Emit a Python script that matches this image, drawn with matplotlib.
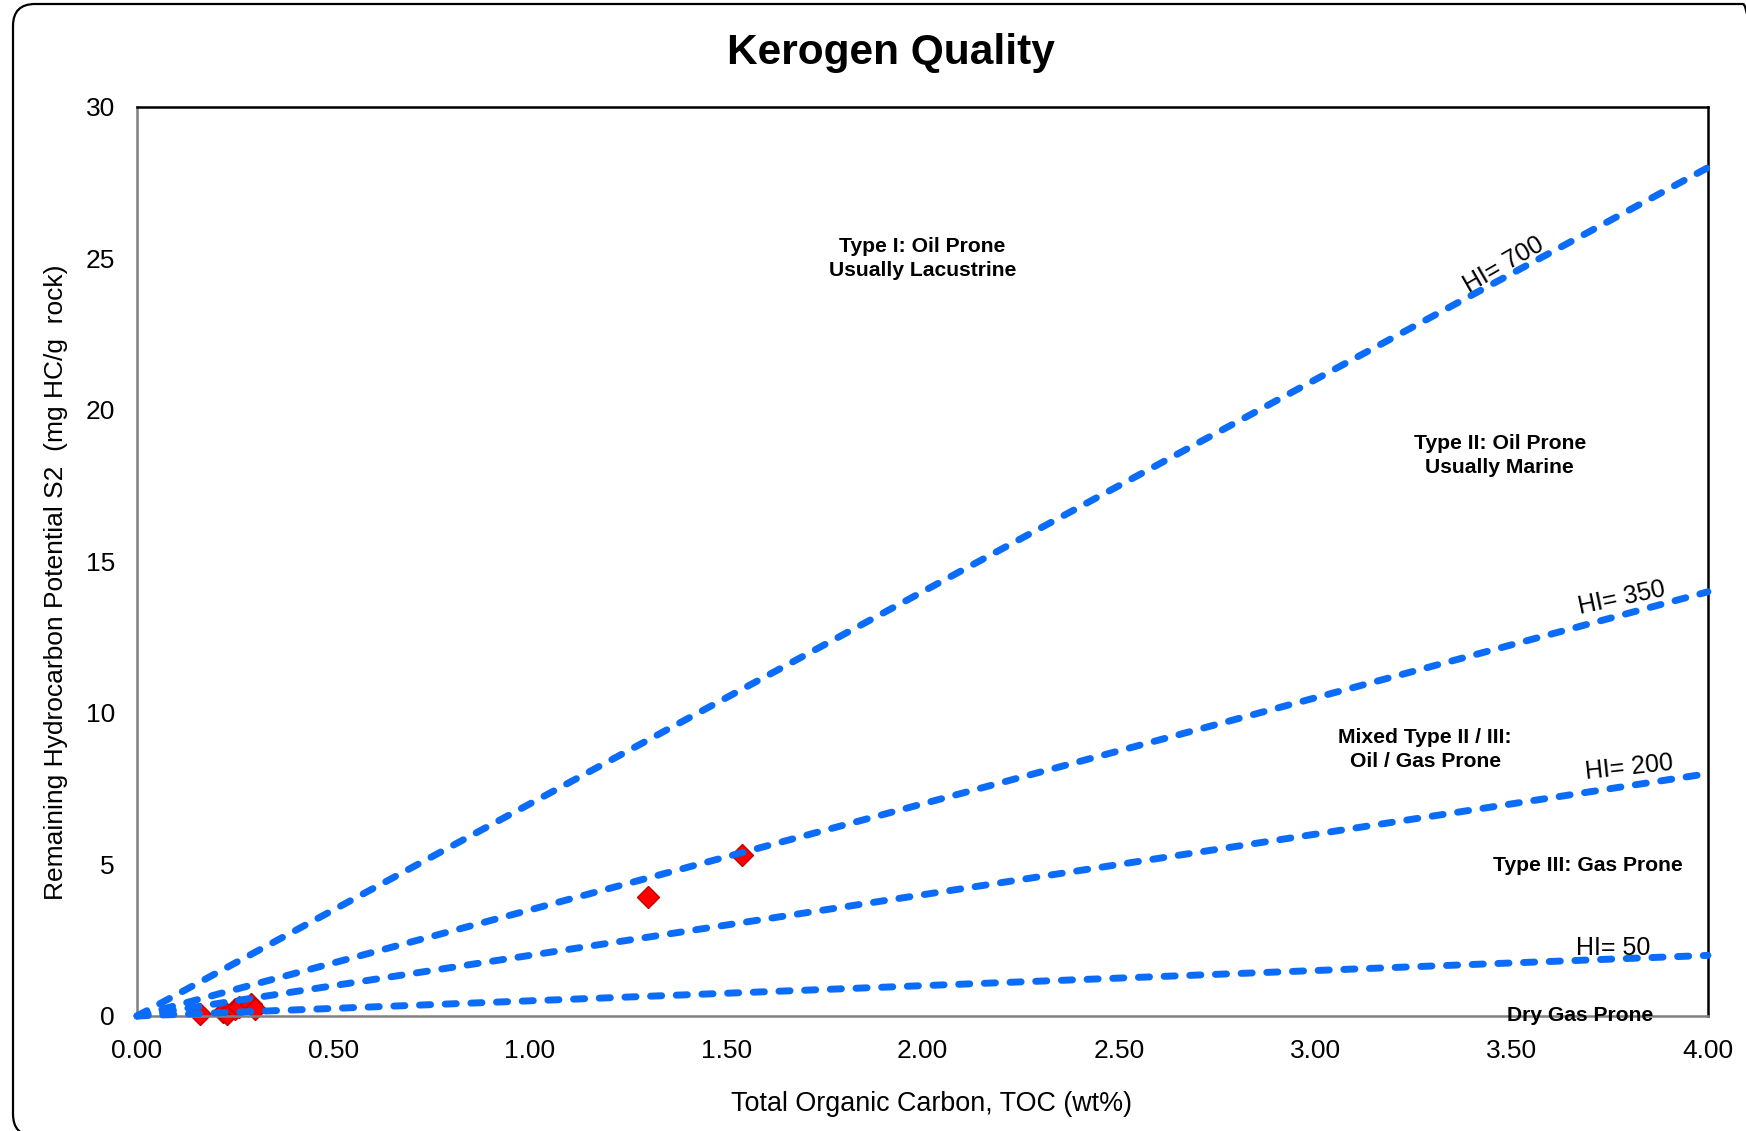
import numpy as np
import matplotlib as mpl
mpl.use('Agg')
import matplotlib.pyplot as plt
from matplotlib.patches import FancyBboxPatch

plt.rcParams["font.family"] = ["Liberation Sans", "DejaVu Sans"]

# Sample data
toc = [0.16, 0.22, 0.23, 0.25, 0.26, 0.29, 0.30, 1.30, 1.54]
s2 = [0.05, 0.12, 0.08, 0.22, 0.28, 0.38, 0.22, 3.94, 5.30]

# Hydrogen index guide lines
hi_values = [700, 350, 200, 50]
toc_range = [0.0, 4.0]
hi_label_pos = [(3.48, 24.8), (3.78, 13.8), (3.80, 8.2), (3.76, 2.25)]
hi_label_rot = [30, 12, 6, 0]

# Zone labels
zones = ["Type I: Oil Prone\nUsually Lacustrine",
         "Type II: Oil Prone\nUsually Marine",
         "Mixed Type II / III:\nOil / Gas Prone",
         "Type III: Gas Prone",
         "Dry Gas Prone"]
zone_pos = [(2.0, 25.0), (3.47, 18.5), (3.28, 8.8), (3.695, 4.95), (3.675, 0.0)]

xticks = [0.0, 0.5, 1.0, 1.5, 2.0, 2.5, 3.0, 3.5, 4.0]
yticks = [0, 5, 10, 15, 20, 25, 30]

line_col = '#0A6CF8'
fontsize = 19
zonesize = 15.2

fig = plt.figure(figsize=(17.46, 11.31), dpi=100)
ax = fig.add_axes([0.0785, 0.1017, 0.8997, 0.8037])

# rounded chart border (in inches, runs off the right and bottom edges)
border = FancyBboxPatch((0.13, -0.05), 17.52, 11.32, transform=fig.dpi_scale_trans,
                        boxstyle="round,pad=0,rounding_size=0.22", fill=False,
                        edgecolor='black', lw=1.6, clip_on=False)
fig.patches.append(border)

ax.plot(toc, s2, linestyle='none', marker='D', markersize=11, markerfacecolor='#FF0000',
        markeredgecolor='#C80000', markeredgewidth=1, zorder=2, clip_on=False)

for hi in hi_values:
    yy = [t * hi / 100. for t in toc_range]
    ln, = ax.plot(toc_range, yy, color=line_col, lw=5, zorder=3, clip_on=False,
                  solid_capstyle='round', dash_capstyle='round')
    ln.set_dashes((1.6, 2.1))

for hi, (px, py), rot in zip(hi_values, hi_label_pos, hi_label_rot):
    ax.text(px, py, "HI= %d" % hi, fontsize=18, rotation=rot, ha='center', va='center',
            rotation_mode='anchor', zorder=4)

for txt, (px, py) in zip(zones, zone_pos):
    ax.text(px, py, txt, fontsize=zonesize, fontweight='bold', ha='center', va='center',
            linespacing=1.3, zorder=5)

ax.set_xlim(0, 4)
ax.set_ylim(0, 30)
ax.set_xticks(xticks)
ax.set_xticklabels(["%.2f" % v for v in xticks])
ax.set_yticks(yticks)
ax.tick_params(length=0, labelsize=fontsize)
ax.tick_params(axis='x', pad=16.5)
ax.tick_params(axis='y', pad=16)

for side in ['left', 'bottom']:
    ax.spines[side].set_color('#808080')
    ax.spines[side].set_linewidth(1.8)
for side in ['top', 'right']:
    ax.spines[side].set_color('black')
    ax.spines[side].set_linewidth(1.8)

ax.set_xlabel('Total Organic Carbon, TOC (wt%)', fontsize=19.4, labelpad=20)
ax.xaxis.set_label_coords(0.506, -0.082)
ax.set_ylabel('Remaining Hydrocarbon Potential S2  (mg HC/g  rock)', fontsize=fontsize)
ax.yaxis.set_label_coords(-0.044, 0.477)
fig.text(0.51, 0.953, 'Kerogen Quality', fontsize=30.5, fontweight='bold', ha='center', va='center')

plt.savefig('out.png', dpi=100)
